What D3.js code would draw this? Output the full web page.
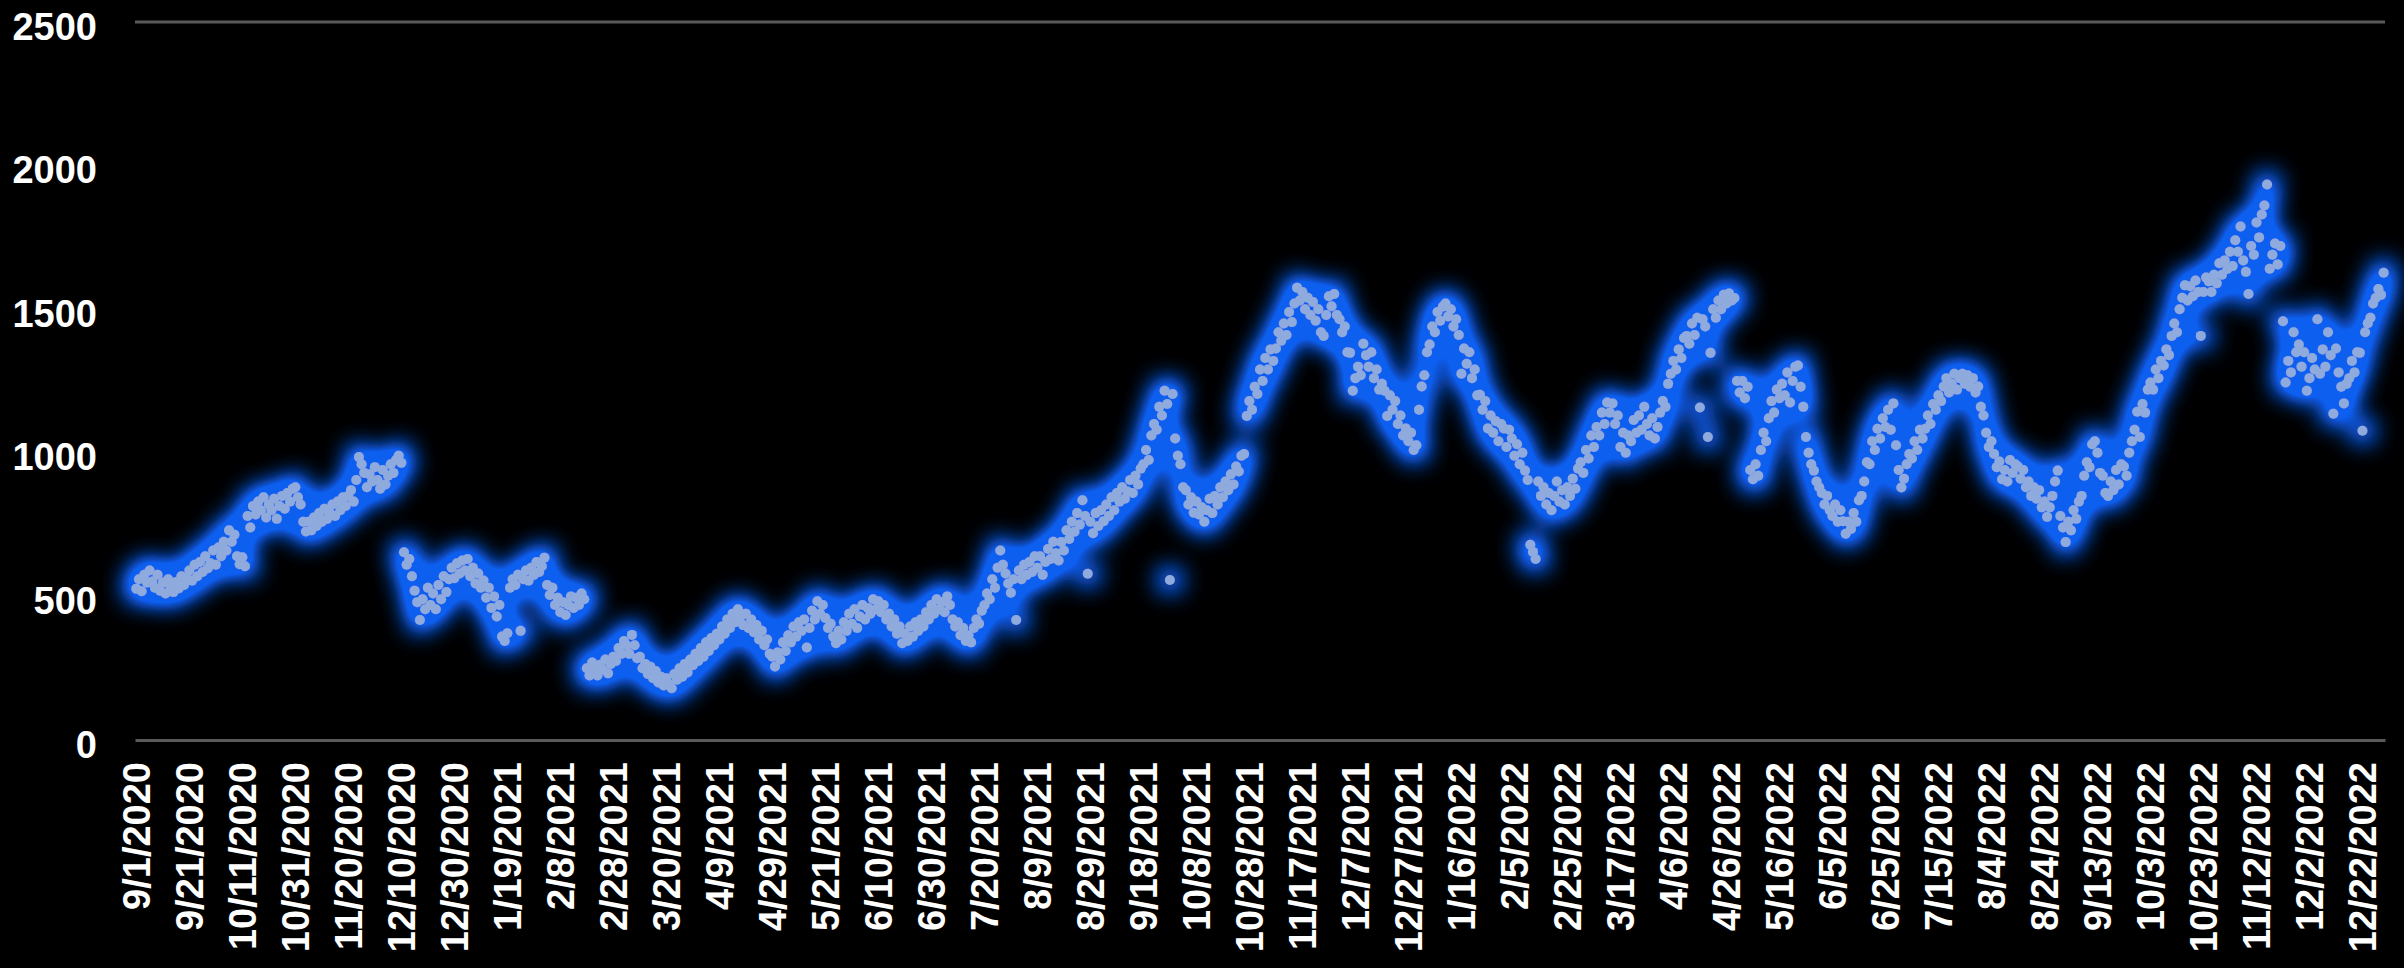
<!DOCTYPE html>
<html>
<head>
<meta charset="utf-8">
<script src="https://cdn.jsdelivr.net/npm/d3@7"></script>
<style>
  body { margin: 0; background: #000; }
  .tick text { font-family: "Liberation Sans", Arial, sans-serif; font-weight: bold; fill: #fff; }
</style>
</head>
<body>
<div id="chart"></div>
<script>
// tick labels shown under the category axis (one every 20 points)
var tickLabels = ["9/1/2020", "9/21/2020", "10/11/2020", "10/31/2020", "11/20/2020", "12/10/2020",
    "12/30/2020", "1/19/2021", "2/8/2021", "2/28/2021", "3/20/2021", "4/9/2021", "4/29/2021",
    "5/21/2021", "6/10/2021", "6/30/2021", "7/20/2021", "8/9/2021", "8/29/2021", "9/18/2021",
    "10/8/2021", "10/28/2021", "11/17/2021", "12/7/2021", "12/27/2021", "1/16/2022", "2/5/2022",
    "2/25/2022", "3/17/2022", "4/6/2022", "4/26/2022", "5/16/2022", "6/5/2022", "6/25/2022",
    "7/15/2022", "8/4/2022", "8/24/2022", "9/13/2022", "10/3/2022", "10/23/2022", "11/12/2022",
    "12/2/2022", "12/22/2022"];

var yTicks = [0, 500, 1000, 1500, 2000, 2500];

// daily values (20 per row, one row per axis label)
var values = [
    527, 560, 518, 575, 548, 590, 552, 530, 575, 520, 548, 510, 560, 532, 515, 550, 528, 570, 540, 563,
    590, 555, 610, 570, 620, 585, 640, 598, 615, 660, 610, 670, 640, 690, 660, 730, 690, 715, 640, 612,
    636, 605, 780, 740, 815, 785, 830, 800, 845, 775, 820, 800, 840, 770, 815, 850, 805, 860, 830, 875,
    880, 845, 820, 760, 726, 760, 730, 775, 745, 790, 760, 805, 770, 790, 820, 780, 830, 800, 845, 815,
    850, 870, 830, 905, 985, 960, 930, 880, 925, 900, 950, 905, 875, 940, 890, 920, 960, 930, 975, 990,
    965, 654, 610, 630, 570, 520, 480, 418, 490, 455, 530, 470, 510, 455, 540, 490, 570, 515, 560, 600,
    563, 615, 580, 625, 590, 630, 570, 600, 545, 580, 530, 555, 495, 530, 460, 500, 430, 470, 360, 345,
    372, 530, 560, 540, 575, 380, 560, 590, 555, 600, 575, 620, 585, 605, 635, 540, 505, 530, 470, 495,
    445, 480, 435, 470, 500, 460, 495, 470, 510, 490, 250, 225, 270, 240, 225, 262, 245, 280, 232, 265,
    290, 275, 320, 300, 345, 330, 300, 366, 330, 285, 290, 250, 265, 230, 255, 215, 240, 200, 220, 190,
    215, 195, 180, 230, 210, 250, 220, 265, 235, 280, 260, 300, 275, 320, 290, 340, 310, 355, 330, 370,
    350, 395, 370, 420, 390, 440, 410, 455, 430, 400, 440, 390, 420, 375, 400, 350, 380, 330, 350, 300,
    290, 256, 305, 280, 340, 310, 365, 340, 395, 360, 410, 380, 420, 322, 390, 450, 420, 483, 440, 470,
    425, 390, 405, 360, 337, 380, 350, 410, 380, 440, 405, 455, 390, 430, 470, 420, 460, 440, 490, 455,
    483, 445, 470, 420, 440, 395, 420, 370, 395, 337, 370, 345, 395, 360, 410, 380, 420, 395, 445, 420,
    470, 440, 490, 455, 480, 445, 500, 470, 420, 395, 410, 365, 390, 345, 365, 340, 390, 420, 405, 450,
    469, 510, 490, 560, 530, 600, 660, 610, 580, 545, 513, 560, 418, 590, 560, 610, 575, 620, 585, 640,
    600, 640, 575, 620, 665, 630, 690, 650, 625, 689, 660, 730, 700, 760, 725, 790, 750, 835, 780, 579,
    760, 720, 790, 745, 800, 762, 820, 780, 845, 800, 860, 830, 880, 840, 865, 905, 860, 920, 890, 945,
    960, 1010, 975, 1060, 1100, 1080, 1160, 1130, 1216, 1170, 557, 1205, 1050, 990, 960, 880, 870, 820, 845, 791,
    830, 785, 810, 760, 800, 840, 790, 850, 820, 880, 845, 900, 870, 925, 890, 952, 935, 990, 996, 1128,
    1180, 1150, 1230, 1205, 1290, 1250, 1330, 1290, 1360, 1320, 1363, 1420, 1390, 1450, 1410, 1490, 1455, 1520, 1575, 1530,
    1560, 1500, 1540, 1480, 1525, 1460, 1500, 1420, 1407, 1480, 1545, 1510, 1553, 1480, 1465, 1420, 1440, 1350, 1348, 1216,
    1260, 1300, 1270, 1380, 1340, 1300, 1350, 1260, 1290, 1220, 1240, 1216, 1128, 1200, 1150, 1180, 1100, 1130, 1060, 1085,
    1040, 1070, 1010, 1026, 1150, 1231, 1270, 1350, 1377, 1440, 1420, 1490, 1460, 1509, 1520, 1475, 1500, 1440, 1465, 1410,
    1275, 1363, 1310, 1350, 1260, 1290, 1200, 1202, 1150, 1180, 1085, 1130, 1070, 1110, 1040, 1100, 1085, 1020, 1080, 1050,
    990, 1030, 960, 1000, 938, 905, 680, 655, 630, 900, 850, 880, 820, 860, 800, 850, 900, 830, 870, 820,
    880, 850, 910, 875, 945, 967, 930, 1010, 980, 1060, 1020, 1090, 1060, 1140, 1100, 1175, 1140, 1172, 1100, 1130,
    1020, 1070, 1000, 1060, 1040, 1114, 1070, 1130, 1080, 1160, 1100, 1060, 1120, 1050, 1090, 1140, 1180, 1160, 1240, 1275,
    1320, 1290, 1360, 1330, 1400, 1407, 1380, 1450, 1410, 1470, 1158, 1465, 1440, 1055, 1348, 1500, 1470, 1530, 1500, 1550,
    1520, 1555, 1530, 1539, 1250, 1210, 1250, 1190, 1230, 940, 908, 960, 920, 1010, 1070, 1040, 1120, 1180, 1140, 1220,
    1190, 1240, 1200, 1280, 1175, 1250, 1300, 1304, 1230, 1160, 1055, 1000, 960, 938, 900, 880, 860, 820, 850, 800,
    780, 820, 760, 800, 762, 718, 760, 735, 790, 760, 835, 850, 900, 967, 960, 1040, 1010, 1084, 1050, 1120,
    1090, 1150, 1080, 1172, 1026, 940, 879, 910, 960, 996, 980, 1040, 1010, 1080, 1050, 1084, 1130, 1100, 1170, 1150,
    1200, 1180, 1231, 1260, 1210, 1240, 1275, 1220, 1260, 1275, 1240, 1270, 1230, 1260, 1210, 1231, 1160, 1130, 1070, 1020,
    1040, 996, 950, 970, 908, 940, 900, 975, 930, 960, 952, 910, 940, 880, 900, 850, 880, 840, 870, 810,
    830, 777, 810, 850, 900, 938, 780, 740, 689, 760, 730, 800, 770, 830, 850, 920, 967, 950, 1030, 1040,
    1000, 930, 920, 860, 850, 900, 870, 940, 890, 960, 952, 920, 1000, 1040, 1080, 1143, 1055, 1170, 1140, 1220,
    1245, 1220, 1290, 1260, 1320, 1304, 1360, 1340, 1407, 1450, 1420, 1500, 1540, 1583, 1530, 1580, 1545, 1600, 1560, 1407,
    1560, 1610, 1597, 1560, 1620, 1590, 1660, 1620, 1670, 1640, 1700, 1650, 1740, 1700, 1788, 1670, 1630, 1553, 1720, 1690,
    1802, 1750, 1830, 1861, 1934, 1641, 1690, 1729, 1656, 1720, 1458, 1245, 1320, 1280, 1420, 1350, 1377, 1300, 1350, 1216,
    1260, 1330, 1290, 1465, 1275, 1360, 1300, 1420, 1340, 1136, 1363, 1280, 1230, 1172, 1240, 1260, 1320, 1280, 1350, 1348,
    1077, 1420, 1451, 1470, 1520, 1539, 1570, 1550, 1627
];

var svgWidth = 2404;
var svgHeight = 968;

// plot area edges
var plot = { left: 135, right: 2385, top: 22, bottom: 740 };

var svg = d3.select("#chart")
    .append("svg")
    .attr("width", svgWidth)
    .attr("height", svgHeight)
    .style("display", "block")
    .style("background", "#000");

// soft blue glow round the markers
var defs = svg.append("defs");
var glow = defs.append("filter")
    .attr("id", "glow")
    .attr("filterUnits", "userSpaceOnUse")
    .attr("x", 0).attr("y", 0)
    .attr("width", svgWidth).attr("height", svgHeight);
glow.append("feMorphology")
    .attr("in", "SourceAlpha")
    .attr("operator", "dilate")
    .attr("radius", 5)
    .attr("result", "fat");
glow.append("feGaussianBlur")
    .attr("in", "fat")
    .attr("stdDeviation", 12)
    .attr("result", "blur");
// push the halo alpha up so it stays solid close to the dots
var boost = glow.append("feComponentTransfer")
    .attr("in", "blur")
    .attr("result", "soft");
boost.append("feFuncA")
    .attr("type", "linear")
    .attr("slope", 2.1);
glow.append("feFlood")
    .attr("flood-color", "#0c5ef0")
    .attr("result", "blue");
glow.append("feComposite")
    .attr("in", "blue")
    .attr("in2", "soft")
    .attr("operator", "in")
    .attr("result", "halo");
var merge = glow.append("feMerge");
merge.append("feMergeNode").attr("in", "halo");
merge.append("feMergeNode").attr("in", "SourceGraphic");

// scales
var xBandScale = d3.scaleBand()
    .domain(d3.range(values.length))
    .range([plot.left, plot.right]);

var yLinearScale = d3.scaleLinear()
    .domain([0, 2500])
    .range([plot.bottom, plot.top]);

// top gridline only
svg.append("line")
    .attr("x1", plot.left)
    .attr("x2", plot.right)
    .attr("y1", yLinearScale(2500))
    .attr("y2", yLinearScale(2500))
    .attr("stroke", "#595959")
    .attr("stroke-width", 3);

// y axis labels
var leftAxis = d3.axisLeft(yLinearScale)
    .tickValues(yTicks)
    .tickFormat(d3.format("d"))
    .tickSize(0)
    .tickPadding(38);

svg.append("g")
    .attr("transform", `translate(${plot.left}, 0)`)
    .call(leftAxis)
    .call(g => g.select(".domain").remove())
    .selectAll("text")
    .attr("font-size", 38)
    .attr("dy", "0.45em");

// x axis, a label every 20 categories
var bottomAxis = d3.axisBottom(xBandScale)
    .tickValues(d3.range(0, values.length, 20))
    .tickFormat(i => tickLabels[i / 20])
    .tickSize(0)
    .tickSizeOuter(0);

var xAxis = svg.append("g")
    .attr("transform", `translate(0, ${plot.bottom})`)
    .call(bottomAxis);

xAxis.select(".domain")
    .attr("stroke", "#595959")
    .attr("stroke-width", 3);

xAxis.selectAll("text")
    .attr("font-size", 38)
    .attr("transform", "rotate(-90)")
    .attr("x", -22)
    .attr("y", 0)
    .attr("dy", "0.36em")
    .style("text-anchor", "end");

// markers
svg.append("g")
    .attr("filter", "url(#glow)")
    .selectAll("circle")
    .data(values)
    .enter()
    .append("circle")
    .attr("cx", (d, i) => xBandScale(i) + xBandScale.bandwidth() / 2)
    .attr("cy", d => yLinearScale(d))
    .attr("r", 5)
    .attr("fill", "#8faadc");
</script>
</body>
</html>
